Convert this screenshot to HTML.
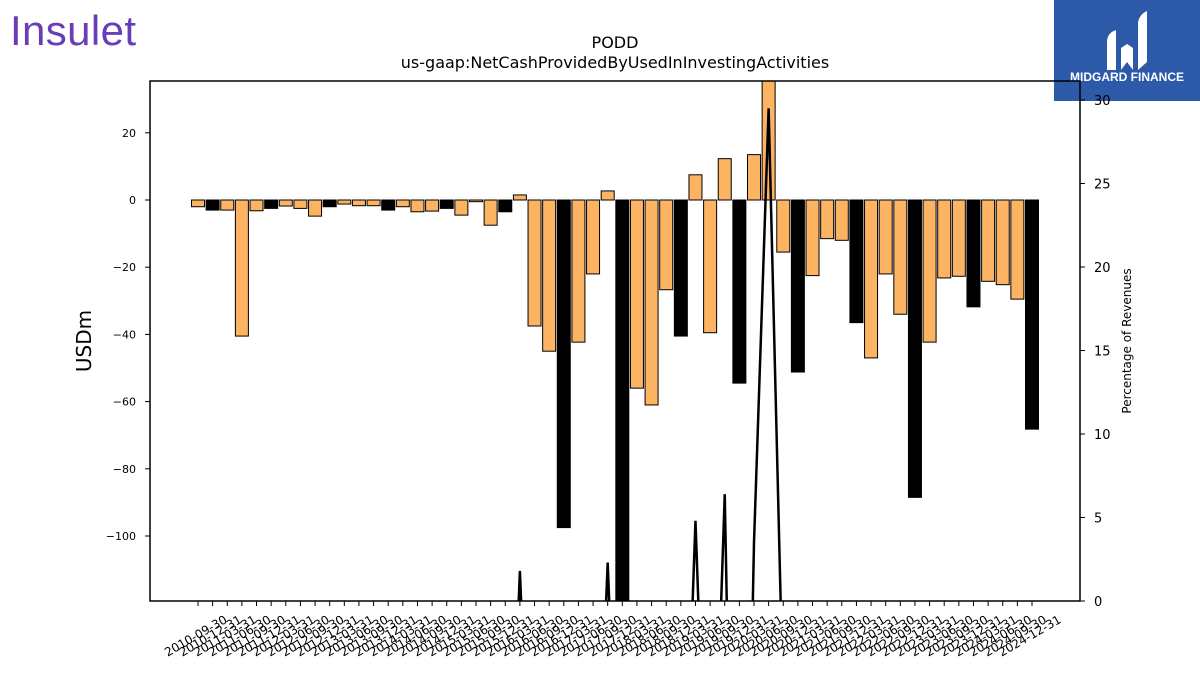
<!DOCTYPE html>
<html><head><meta charset="utf-8"><style>
html,body{margin:0;padding:0;width:1200px;height:675px;background:#fff;overflow:hidden;font-family:"DejaVu Sans","Liberation Sans",sans-serif}
svg{display:block}
</style></head><body>
<svg id="c" width="1200" height="675" xmlns="http://www.w3.org/2000/svg" font-family="DejaVu Sans, Liberation Sans, sans-serif">
<text x="10" y="45" font-size="42" fill="#6a3db8" font-family="Liberation Sans,sans-serif" letter-spacing="-2" textLength="124">Insulet</text>
<g>
<rect x="1054" y="0" width="146" height="101" fill="#2c5aa8"/>
<path d="M1107 70 L1107 42 Q1107 33 1116 30 L1116 70 Z M1121 70 L1121 48 L1127 44 L1133 48 L1133 70 L1127 62 Z M1138 70 L1138 22 Q1140 14 1147 11 L1147 62 Z" fill="#fff"/>
<text x="1127" y="81" font-size="12" font-weight="bold" fill="#fff" text-anchor="middle" font-family="Liberation Sans,sans-serif">MIDGARD FINANCE</text>
</g>
<text x="615" y="48" font-size="16" text-anchor="middle">PODD</text>
<text x="615" y="68" font-size="16" text-anchor="middle">us-gaap:NetCashProvidedByUsedInInvestingActivities</text>
<text transform="translate(91,341) rotate(-90)" font-size="20" text-anchor="middle">USDm</text>
<text transform="translate(1131,341) rotate(-90)" font-size="12" text-anchor="middle">Percentage of Revenues</text>
<defs><clipPath id="pc"><rect x="150" y="81" width="930" height="520"/></clipPath></defs>
<g id="bars" clip-path="url(#pc)"></g>
<g id="line" clip-path="url(#pc)"></g>
<g id="axes"></g>
</svg>
<script>
const labels=[];
(function(){const q=["03-31","06-30","09-30","12-31"];for(let y=2010;y<=2024;y++)for(let k=0;k<4;k++){if(y===2010&&k<2)continue;labels.push(y+"-"+q[k]);}})();
const values=[-2,-3,-3,-40.5,-3.2,-2.5,-1.8,-2.5,-4.8,-2,-1.2,-1.7,-1.7,-3,-2,-3.5,-3.3,-2.5,-4.5,-0.5,-7.5,-3.5,1.5,-37.5,-45,-97.5,-42.3,-22,2.7,-125,-56,-61,-26.7,-40.5,7.5,-39.5,12.3,-54.5,13.5,40,-15.5,-51.2,-22.5,-11.5,-12,-36.5,-47,-22,-34,-88.5,-42.3,-23.2,-22.7,-31.8,-24.2,-25.2,-29.5,-68.2];
const pct=[-30,-30,-30,-30,-30,-30,-30,-30,-30,-30,-30,-30,-30,-30,-30,-30,-30,-30,-30,-30,-30,-20,1.8,-20,-30,-30,-30,-20,2.3,-20,-30,-30,-30,-20,4.8,-20,6.4,-40,3.5,29.5,-6.4,-30,-30,-30,-30,-30,-30,-30,-30,-30,-30,-30,-30,-30,-30,-30,-30,-30];
const leftTicks=[20,0,-20,-40,-60,-80,-100];
const rightTicks=[0,5,10,15,20,25,30];
const NS="http://www.w3.org/2000/svg";
const x=i=>198+i*(1032-198)/57;
const y=v=>200-v*3.36;
const y2=v=>601-v*16.7;
function mk(t,a,p){const e=document.createElementNS(NS,t);for(const k in a)e.setAttribute(k,a[k]);p.appendChild(e);return e;}
const bars=document.getElementById('bars'),line=document.getElementById('line'),axes=document.getElementById('axes');
values.forEach((v,i)=>{
 const black=labels[i].endsWith("12-31");
 const r=mk('rect',{x:x(i)-6.5,y:Math.min(y(v),y(0)),width:13,height:Math.abs(y(v)-y(0)),fill:black?'#000':'#fdb462',stroke:'#000','stroke-width':1},bars);
 
 
});
const pl=mk('polyline',{points:pct.map((v,i)=>x(i)+','+y2(v)).join(' '),fill:'none',stroke:'#000','stroke-width':2.5},line);


mk('rect',{x:150,y:81,width:930,height:520,fill:'none',stroke:'#000','stroke-width':1.5},axes);
leftTicks.forEach(t=>{
 mk('line',{x1:145,x2:150,y1:y(t),y2:y(t),stroke:'#000'},axes);
 const tx=mk('text',{x:136,y:y(t)+4,'font-size':11,'text-anchor':'end'},axes);tx.textContent=String(t).replace('-','\u2212');
 
 
});
rightTicks.forEach(t=>{
 mk('line',{x1:1080,x2:1085,y1:y2(t),y2:y2(t),stroke:'#000'},axes);
 const tx=mk('text',{x:1094,y:y2(t)+5,'font-size':13},axes);tx.textContent=t;
 
 
});
labels.forEach((l,i)=>{
 mk('line',{x1:x(i),x2:x(i),y1:601,y2:606,stroke:'#000'},axes);
 const tx=mk('text',{transform:`translate(${x(i)+30},${622}) rotate(-30)`,'font-size':12,'text-anchor':'end'},axes);tx.textContent=l;
 
 
});
</script>
</body></html>
